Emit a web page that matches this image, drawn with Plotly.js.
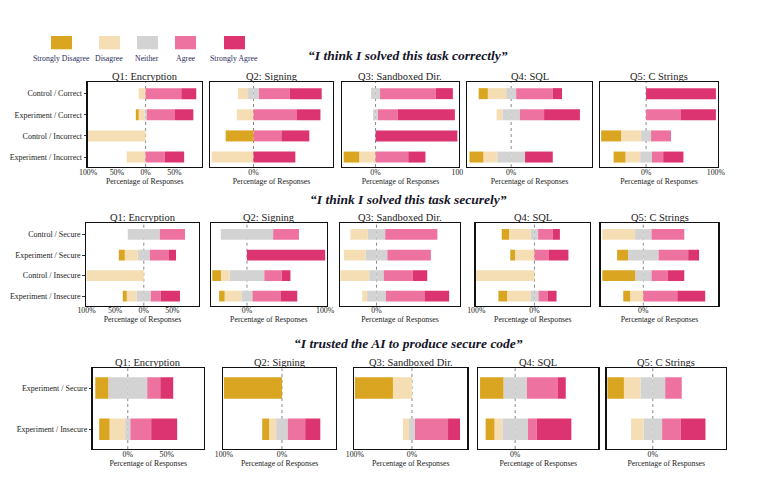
<!DOCTYPE html>
<html>
<head>
<meta charset="utf-8">
<script src="https://cdn.plot.ly/plotly-3.0.1.min.js"></script>
<style>html,body{margin:0;padding:0;background:#fff;}#chart{width:762px;height:478px;}</style>
</head>
<body>
<div id="chart"></div>
<script>
// ---------- DATA ----------
const levels = ["Strongly Disagree", "Disagree", "Neither", "Agree", "Strongly Agree"];
const questions = ["Q1: Encryption", "Q2: Signing", "Q3: Sandboxed Dir.", "Q4: SQL", "Q5: C Strings"];
const rowsCorrect = ["Control / Correct", "Experiment / Correct", "Control / Incorrect", "Experiment / Incorrect"];
const rowsSecure = ["Control / Secure", "Experiment / Secure", "Control / Insecure", "Experiment / Insecure"];
const rowsTrust = ["Experiment / Secure", "Experiment / Insecure"];

// percentages per row: [SD, D, N, A, SA]
const correctQ1 = [[0,12,0,62,26],[5,10,4,49,32],[0,100,0,0,0],[0,33,0,33,34]];
const correctQ2 = [[0,12,13,37,38],[0,20,0,52,28],[33.3,0,0,33.3,33.4],[0,50,0,0,50]];
const correctQ3 = [[0,0,11,68,21],[0,0,6,24,70],[0,0,0,0,100],[19,20,0,40,21]];
const correctQ4 = [[11,22,12,44,11],[0,7,21,29,43],[0,0,0,0,0],[16.7,16.7,33.3,0,33.3]];
const correctQ5 = [[0,0,0,0,100],[0,0,0,50,50],[28.6,28.6,14.3,28.5,0],[17,21,17,16,29]];

const secureQ1 = [[0,0,56,44,0],[10.5,22.7,21,33.5,12.3],[0,100,0,0,0],[7,17.5,24.5,17.5,33.5]];
const secureQ2 = [[0,0,67,33,0],[0,0,0,0,100],[11.1,11.1,44.4,22.2,11.2],[7.1,21.4,14.3,35.7,21.5]];
const secureQ3 = [[0,20,20,60,0],[0,25,25,50,0],[0,33.3,16.7,33.3,16.7],[0,5.7,21.6,44.3,28.4]];
const secureQ4 = [[12.5,37.5,12.5,25,12.5],[8.3,33.3,0,25,33.4],[0,100,0,0,0],[15,40,14,15.5,15.5]];
const secureQ5 = [[0,40,20,40,0],[13.3,0,37.3,36.1,13.3],[40,0,20,20,20],[8.5,16,0,41.5,34]];

const trustQ1 = [[16.7,0,50,16.7,16.6],[13.3,20,6.7,26.7,33.3]];
const trustQ2 = [[100,0,0,0,0],[12,12,20,30,26]];
const trustQ3 = [[66.7,33.3,0,0,0],[0,10.5,10.5,58,21]];
const trustQ4 = [[27.3,0,27.3,36.3,9.1],[10.3,9.2,29.9,10.3,40.3]];
const trustQ5 = [[22.2,22.2,33.3,22.3,0],[0,16.7,25,25,33.3]];

const sectionTitles = ["\u201cI think I solved this task correctly\u201d", "\u201cI think I solved this task securely\u201d", "\u201cI trusted the AI to produce secure code\u201d"];

// ---------- STYLE / LAYOUT CONFIG ----------
const colors = ["#DAA520", "#F5DEB3", "#D3D3D3", "#EE72A0", "#DC3470"];
const W = 762, H = 478;
const FONT = "Liberation Serif, Times New Roman, serif";

const sections = [
  { rows: rowsCorrect, data: [correctQ1, correctQ2, correctQ3, correctQ4, correctQ5],
    xr: [[-101,98],[-52,95],[-41,102],[-53,97],[-66,103]],
    tv: [[-100,-50,0,50],[0],[0,100],[0],[0,100]],
    tt: [["100%","50%","0%","50%"],["0%"],["0%","100"],["0%"],["0%","100%"]],
    xd: [[87.5,202],[210,333],[342,459],[467,592],[600,718]], yd: [82,167], yr: [3.47,-0.55],
    titleY: 55 },
  { rows: rowsSecure, data: [secureQ1, secureQ2, secureQ3, secureQ4, secureQ5],
    xr: [[-101,96.5],[-46,102],[-42,96],[-101,95.5],[-52,91.5]],
    tv: [[-100,-50,0,50],[0,100],[0],[-100,0],[0]],
    tt: [["100%","50%","0%","50%"],["0%","100%"],["0%"],["100%","0%"],["0%"]],
    xd: [[86,199],[211,326.7],[340,460],[475.7,590],[600.7,718.3]], yd: [223.3,305.7], yr: [3.46,-0.54],
    titleY: 199 },
  { rows: rowsTrust, data: [trustQ1, trustQ2, trustQ3, trustQ4, trustQ5],
    xr: [[-45,97.4],[-101,93],[-101,97],[-43,97],[-62,98]],
    tv: [[0,50],[-100,0],[-100,0],[0],[0]],
    tt: [["0%","50%"],["100%","0%"],["100%","0%"],["0%"],["0%"]],
    xd: [[92.7,203.7],[223.3,336],[354.3,467.3],[478.3,598.3],[606.7,725.7]], yd: [368.3,449], yr: [1.48,-0.48],
    titleY: 343 }
];

const px = v => v / W;
const py = v => 1 - v / H;

const traces = [];
const layout = {
  width: W, height: H,
  margin: {l:0, r:0, t:0, b:0},
  paper_bgcolor: "#fff", plot_bgcolor: "#fff",
  barmode: "relative", bargap: 0.48,
  showlegend: false,
  font: {family: FONT, color: "#222", size: 8},
  shapes: [], annotations: []
};

// stacking order: neutral halves first (closest to 0), then D/A, then SD/SA
const order = [[2,-0.5],[2,0.5],[1,-1],[3,1],[0,-1],[4,1]];

let k = 0;
sections.forEach((sec, si) => {
  layout.annotations.push({
    text: "<b><i>" + sectionTitles[si] + "</i></b>", xref: "paper", yref: "paper",
    x: px(408), y: py(sec.titleY), showarrow: false, xanchor: "center", yanchor: "middle",
    font: {family: FONT, size: 13.5, color: "#15152a"}
  });
  sec.data.forEach((tbl, qi) => {
    k += 1;
    const xa = "x" + (k === 1 ? "" : k), ya = "y" + (k === 1 ? "" : k);
    const xk = "xaxis" + (k === 1 ? "" : k), yk = "yaxis" + (k === 1 ? "" : k);
    order.forEach(([li, sign]) => {
      traces.push({
        type: "bar", orientation: "h",
        x: tbl.map(r => r[li] * sign), y: sec.rows,
        xaxis: xa, yaxis: ya, name: levels[li],
        marker: {color: colors[li], line: {width: 0}},
        hoverinfo: "skip", showlegend: false
      });
    });
    layout[xk] = {
      domain: [px(sec.xd[qi][0]), px(sec.xd[qi][1])], anchor: ya,
      range: sec.xr[qi], showgrid: false, zeroline: false,
      showline: true, mirror: true, linecolor: "#111", linewidth: 1.3,
      tickvals: sec.tv[qi], ticktext: sec.tt[qi], ticks: "", ticklen: 0,
      ticklabelstandoff: -3,
      tickfont: {family: FONT, size: 7.8, color: "#222"},
      title: {text: "Percentage of Responses", standoff: 0, font: {family: FONT, size: 7.8, color: "#222"}},
      fixedrange: true
    };
    layout[yk] = {
      domain: [py(sec.yd[1]), py(sec.yd[0])], anchor: xa,
      type: "category", range: sec.yr, showgrid: false, zeroline: false,
      showline: true, mirror: true, linecolor: "#111", linewidth: 1.3,
      showticklabels: qi === 0, ticks: qi === 0 ? "outside" : "", ticklen: 2.5, tickcolor: "#333",
      tickfont: {family: FONT, size: 8, color: "#222"}, fixedrange: true
    };
    layout.shapes.push({
      type: "line", xref: xa, yref: ya + " domain", x0: 0, x1: 0, y0: 0, y1: 1,
      line: {color: "#888", width: 1, dash: "dot"}, layer: "below"
    });
    layout.annotations.push({
      text: questions[qi], xref: "paper", yref: "paper",
      x: px((sec.xd[qi][0] + sec.xd[qi][1]) / 2), y: py(sec.yd[0] + 1.5), showarrow: false,
      xanchor: "center", yanchor: "bottom", font: {family: FONT, size: 10.5, color: "#222"}
    });
  });
});

// legend swatches
const legX = [[51,72],[99,120],[137,158],[175,196],[224,245]];
const legTx = [61, 109, 147, 185.5, 234];
levels.forEach((lv, i) => {
  layout.shapes.push({type: "rect", xref: "paper", yref: "paper",
    x0: px(legX[i][0]), x1: px(legX[i][1]), y0: py(49.3), y1: py(36),
    fillcolor: colors[i], line: {width: 0}});
  layout.annotations.push({text: lv, xref: "paper", yref: "paper", x: px(legTx[i]), y: py(58.7),
    showarrow: false, xanchor: "center", yanchor: "middle",
    font: {family: FONT, size: 7.8, color: "#2a2a5c"}});
});

Plotly.newPlot("chart", traces, layout, {staticPlot: true, displayModeBar: false});
</script>
</body>
</html>
